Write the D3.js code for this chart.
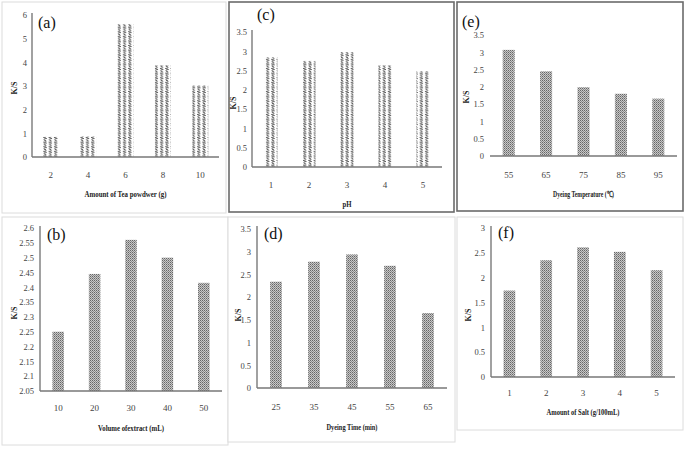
<!DOCTYPE html>
<html><head><meta charset="utf-8">
<script src="https://cdn.jsdelivr.net/npm/d3@7"></script>
<style>body{margin:0;background:#fff}svg{display:block}</style>
</head><body>
<svg id="c" width="685" height="450"></svg>
<script>
// ---- data ----
const catsA = ["2","4","6","8","10"];
const valsA = [0.85, 0.87, 5.62, 3.88, 3.02];
const ticksA = [0,1,2,3,4,5,6];

const catsB = ["10","20","30","40","50"];
const valsB = [2.25, 2.445, 2.56, 2.5, 2.415];
const ticksB = [2.05,2.1,2.15,2.2,2.25,2.3,2.35,2.4,2.45,2.5,2.55,2.6];

const catsC = ["1","2","3","4","5"];
const valsC = [2.84, 2.75, 2.98, 2.64, 2.48];
const ticksC = [0,0.5,1,1.5,2,2.5,3,3.5];

const catsD = ["25","35","45","55","65"];
const valsD = [2.34, 2.78, 2.94, 2.69, 1.65];
const ticksD = [0,0.5,1,1.5,2,2.5,3,3.5];

const catsE = ["55","65","75","85","95"];
const valsE = [3.07, 2.45, 1.99, 1.8, 1.66];
const ticksE = [0,0.5,1,1.5,2,2.5,3,3.5];

const catsF = ["1","2","3","4","5"];
const valsF = [1.74, 2.35, 2.61, 2.52, 2.15];
const ticksF = [0,0.5,1,1.5,2,2.5,3];

const svg = d3.select("#c");
const defs = svg.append("defs");
// wavy pattern (columns of S-shapes)
const pw = defs.append("pattern").attr("id","wave").attr("patternUnits","userSpaceOnUse")
  .attr("width",5.3).attr("height",4.6);
pw.append("rect").attr("width",5.3).attr("height",4.6).attr("fill","#fff");
pw.append("path").attr("d","M4.3,0.5 C1.2,0.3 1.0,2.3 2.6,2.3 C4.3,2.3 4.2,4.3 1.0,4.1").attr("fill","none")
  .attr("stroke","#2a2a2a").attr("stroke-width",0.85);
// dotted pattern (fine stipple)
const pd = defs.append("pattern").attr("id","dots").attr("patternUnits","userSpaceOnUse")
  .attr("width",2).attr("height",2);
pd.append("rect").attr("width",2).attr("height",2).attr("fill","#c8c8c8");
pd.append("rect").attr("x",0).attr("y",0).attr("width",1).attr("height",1).attr("fill","#666");
pd.append("rect").attr("x",1).attr("y",1).attr("width",1).attr("height",1).attr("fill","#8c8c8c");

const panels = [
  {cats:catsA, vals:valsA, ticks:ticksA, dom:[0,6], label:"(a)", title:"Amount of Tea powdwer (g)",
   box:[2,2,226,213], boxDark:false, x0:32, x1:219, y0:157, y1:15, axTop:13, yAxis:true,
   bw:16, fill:"url(#wave)", tickX:27, xlabY:178, titleY:197, titleW:82, ksX:14, ksY:88, labX:38, labY:28},
  {cats:catsC, vals:valsC, ticks:ticksC, dom:[0,3.5], label:"(c)", title:"pH",
   box:[229,2,454,212], boxDark:true, x0:252, x1:442, y0:167, y1:32, axTop:30, yAxis:true,
   bw:13, fill:"url(#wave)", tickX:247, xlabY:188, titleY:207, titleW:9, ksX:233, ksY:103, labX:257, labY:20},
  {cats:catsE, vals:valsE, ticks:ticksE, dom:[0,3.5], label:"(e)", title:"Dyeing Temperature (\u2103)",
   box:[457,2,683,211], boxDark:true, x0:490, x1:677, y0:156, y1:35, axTop:35, yAxis:false,
   bw:12, fill:"url(#dots)", tickX:484, xlabY:178, titleY:197, titleW:61, ksX:466, ksY:97, labX:462, labY:27},
  {cats:catsB, vals:valsB, ticks:ticksB, dom:[2.05,2.6], label:"(b)", title:"Volume ofextract (mL)",
   box:[2,217,228,445], boxDark:false, x0:40, x1:222, y0:391, y1:228, axTop:226, yAxis:true,
   bw:11.5, fill:"url(#dots)", tickX:34, xlabY:411, titleY:431, titleW:66, ksX:14, ksY:313, labX:47, labY:240},
  {cats:catsD, vals:valsD, ticks:ticksD, dom:[0,3.5], label:"(d)", title:"Dyeing Time (min)",
   box:[228,217,455,442], boxDark:false, x0:257, x1:447, y0:388, y1:229, axTop:226, yAxis:true,
   bw:11.7, fill:"url(#dots)", tickX:251, xlabY:410, titleY:430, titleW:51, ksX:238, ksY:315, labX:264, labY:239},
  {cats:catsF, vals:valsF, ticks:ticksF, dom:[0,3], label:"(f)", title:"Amount of Salt (g/100mL)",
   box:[457,217,683,430], boxDark:false, x0:491, x1:675, y0:377, y1:228, axTop:226, yAxis:true,
   bw:11.7, fill:"url(#dots)", tickX:485, xlabY:396, titleY:415, titleW:73, ksX:468, ksY:315, labX:498, labY:238}
];

panels.forEach(p => {
  const g = svg.append("g");
  const [bx0,by0,bx1,by1] = p.box;
  g.append("rect").attr("x",bx0).attr("y",by0).attr("width",bx1-bx0).attr("height",by1-by0)
    .attr("fill","#fff").attr("stroke", p.boxDark ? "#6b6b6b" : "#dcdcdc")
    .attr("stroke-width", p.boxDark ? 1.6 : 1);

  const x = d3.scaleBand().domain(p.cats).range([p.x0, p.x1]);
  const y = d3.scaleLinear().domain(p.dom).range([p.y0, p.y1]);

  // bars
  g.selectAll("rect.bar").data(p.vals).join("rect").attr("class","bar")
    .attr("x",(d,i)=> x(p.cats[i]) + x.bandwidth()/2 - p.bw/2)
    .attr("width",p.bw)
    .attr("y",d=>y(d)).attr("height",d=>y(p.dom[0])-y(d))
    .attr("fill",p.fill);

  // y axis labels
  const ya = d3.axisLeft(y).tickValues(p.ticks).tickSize(0).tickPadding(0)
    .tickFormat(d => String(+d.toFixed(2)));
  const yg = g.append("g").attr("transform",`translate(${p.tickX},0)`).call(ya)
    .attr("font-family","Liberation Serif").attr("font-size",8.5);
  yg.select(".domain").remove();
  yg.selectAll("text").attr("fill","#444");
  if (p.yAxis) {
    g.append("line").attr("x1",p.x0).attr("x2",p.x0).attr("y1",p.axTop).attr("y2",p.y0)
      .attr("stroke","#8a8a8a").attr("stroke-width",1.6);
  }
  // x axis
  const xa = d3.axisBottom(x).tickSize(0).tickPadding(0);
  const xg = g.append("g").attr("transform",`translate(0,${p.xlabY - 6})`).call(xa)
    .attr("font-family","Liberation Serif").attr("font-size",9);
  xg.select(".domain").remove();
  xg.selectAll("text").attr("fill","#444");
  g.append("line").attr("x1",p.x0).attr("x2",p.x1).attr("y1",p.y0).attr("y2",p.y0)
    .attr("stroke","#777").attr("stroke-width",1.6);

  // axis title
  g.append("text").attr("x",(p.x0+p.x1)/2).attr("y",p.titleY).attr("text-anchor","middle")
    .attr("font-family","Liberation Serif").attr("font-weight","bold").attr("font-size",8.5)
    .attr("fill","#222").attr("textLength",p.titleW).attr("lengthAdjust","spacingAndGlyphs")
    .text(p.title);
  // K/S
  g.append("text").attr("transform",`translate(${p.ksX+3},${p.ksY}) rotate(-90)`)
    .attr("text-anchor","middle").attr("font-family","Liberation Serif").attr("font-weight","bold")
    .attr("font-size",8).attr("fill","#222").text("K/S");
  // panel label
  g.append("text").attr("x",p.labX).attr("y",p.labY).attr("font-family","Liberation Serif")
    .attr("font-size",16).attr("fill","#111").text(p.label);
});
</script>
</body></html>
